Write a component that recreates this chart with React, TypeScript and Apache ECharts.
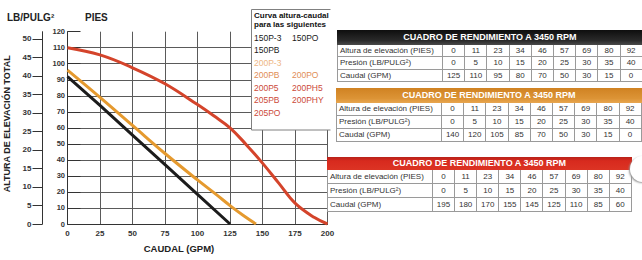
import React, { useEffect, useRef } from "react";
import * as echarts from "echarts";

// ---- curve data (GPM vs PIES) ----
const negroGpm = [0, 25, 50, 75, 100, 125];
const negroPies = [92, 74, 55.5, 37, 18.5, 0];
const naranjaGpm = [0, 25, 50, 75, 100, 115, 125, 135, 145];
const naranjaPies = [96, 79, 61.5, 44, 27.5, 18, 11.5, 5.5, 0];
const rojoGpm = [0, 25, 50, 75, 100, 112.5, 125, 137.5, 150, 162.5, 175, 190, 200];
const rojoPies = [110, 105.5, 97.5, 87.5, 74.5, 67.5, 60, 49.5, 38, 25.5, 13, 4, 0];

// ---- axis ticks ----
const psiTicks = [0, 5, 10, 15, 20, 25, 30, 35, 40, 45, 50];
const gridPies = [10, 20, 30, 40, 50, 60, 70, 80, 90, 100, 110];
const PIES_POR_PSI = 2.31;

// ---- legend box ----
const legendTitle = ["Curva altura-caudal", "para las siguientes"];
const filasModelos = [
  ["150P-3", "150PO"],
  ["150PB"],
  ["200P-3"],
  ["200PB", "200PO"],
  ["200P5", "200PH5"],
  ["205PB", "200PHY"],
  ["205PO"],
];

// ---- performance tables ----
const tablaTitulo = "CUADRO DE RENDIMIENTO A 3450 RPM";
const filaEtiquetas = ["Altura de elevación (PIES)", "Presión (LB/PULG²)", "Caudal (GPM)"];
const alturaPies = [0, 11, 23, 34, 46, 57, 69, 80, 92];
const presionLb = [0, 5, 10, 15, 20, 25, 30, 35, 40];
const caudalTabla1 = [125, 110, 95, 80, 70, 50, 30, 15, 0];
const caudalTabla2 = [140, 120, 105, 85, 70, 50, 30, 15, 0];
const caudalTabla3 = [195, 180, 170, 155, 145, 125, 110, 85, 60];

const FONT = "'Liberation Sans', Arial, Helvetica, sans-serif";
const coloresFila = ["#1a1a1a", "#1a1a1a", "#eeb683", "#e18e55", "#cc4a38", "#cc4a38", "#cc4a38"];

function pares(xs: number[], ys: number[]) {
  return xs.map((x, i) => [x, ys[i]]);
}

function Chart() {
  const ref = useRef<HTMLDivElement>(null);
  useEffect(() => {
    if (!ref.current) return;
    const chart = echarts.init(ref.current, null, { renderer: "svg" });
    const legendEls: any[] = [
      {
        type: "rect",
        shape: { x: 251.5, y: 9.5, width: 79, height: 120.5 },
        style: { fill: "#ffffff", stroke: null },
        z: 100,
      },
      {
        type: "polyline",
        shape: {
          points: [
            [330.5, 9.5],
            [251.5, 9.5],
            [251.5, 130],
            [330.5, 130],
          ],
        },
        style: { fill: null, stroke: "#808080", lineWidth: 1 },
        z: 100,
      },
    ];
    legendTitle.forEach((t, i) => {
      legendEls.push({
        type: "text",
        x: 254,
        y: 15 + i * 9,
        z: 101,
        style: { text: t, font: `bold 8px ${FONT}`, fill: "#111", verticalAlign: "middle" },
      });
    });
    filasModelos.forEach((fila, r) => {
      fila.forEach((m, c) => {
        legendEls.push({
          type: "text",
          x: c === 0 ? 254 : 292,
          y: 37.5 + r * 12.5,
          z: 101,
          style: { text: m, font: `8.5px ${FONT}`, fill: coloresFila[r], verticalAlign: "middle" },
        });
      });
    });
    legendEls.push({
      type: "text",
      x: 7,
      y: 17,
      z: 101,
      style: { text: "LB/PULG²", font: `bold 10px ${FONT}`, fill: "#222", verticalAlign: "middle" },
    });

    const axisCol = "#333";
    chart.setOption({
      animation: false,
      backgroundColor: "#ffffff",
      textStyle: { fontFamily: FONT },
      grid: { left: 67.5, right: 8.5, top: 31.7, bottom: 36, containLabel: false, outerBoundsMode: "none" },
      xAxis: {
        type: "value",
        min: 0,
        max: 200,
        interval: 25,
        axisLine: { show: true, lineStyle: { color: axisCol, width: 1 } },
        axisTick: { show: false },
        axisLabel: { color: "#333", fontSize: 8, fontWeight: "bold", margin: 5, fontFamily: FONT },
        splitLine: { show: true, lineStyle: { color: "#5a5a5a", width: 1 } },
        name: "CAUDAL (GPM)",
        nameLocation: "middle",
        nameGap: 19,
        nameTextStyle: {
          color: "#222",
          fontSize: 9.5,
          fontWeight: "bold",
          fontFamily: FONT,
          padding: [0, 37, 0, 0],
        },
      },
      yAxis: [
        {
          type: "value",
          min: 0,
          max: 120,
          interval: 10,
          position: "left",
          offset: 25,
          axisLine: { show: true, lineStyle: { color: axisCol, width: 1 } },
          axisTick: { show: true, inside: true, length: 13, lineStyle: { color: axisCol } },
          axisLabel: {
            inside: true,
            align: "right",
            margin: 22.5,
            color: "#333",
            fontSize: 7.5,
            fontWeight: "bold",
            fontFamily: FONT,
          },
          splitLine: { show: false },
          name: "PIES",
          nameLocation: "end",
          nameGap: 14.7,
          nameTextStyle: {
            color: "#222",
            fontSize: 10,
            fontWeight: "bold",
            fontFamily: FONT,
            align: "left",
            verticalAlign: "middle",
            padding: [0, 0, 0, 17.5],
          },
        },
        {
          type: "value",
          min: 0,
          max: 120 / PIES_POR_PSI,
          position: "left",
          offset: 25,
          axisLine: { show: true, lineStyle: { color: axisCol, width: 1 } },
          axisTick: { show: true, length: 10, customValues: psiTicks, lineStyle: { color: axisCol } },
          axisLabel: {
            customValues: psiTicks,
            margin: 11,
            color: "#333",
            fontSize: 8,
            fontWeight: "bold",
            fontFamily: FONT,
          },
          splitLine: { show: false },
          name: "ALTURA DE ELEVACIÓN TOTAL",
          nameLocation: "middle",
          nameGap: 30.5,
          nameRotate: 90,
          nameTextStyle: { color: "#222", fontSize: 9, fontWeight: "bold", fontFamily: FONT, padding: [0, 0, 0, 8] },
        },
        {
          type: "value",
          min: 0,
          max: 120,
          position: "left",
          offset: 0,
          axisLine: { show: false },
          axisTick: { show: false, customValues: gridPies },
          axisLabel: { show: false, customValues: gridPies },
          splitLine: { show: true, lineStyle: { color: "#5a5a5a", width: 1 } },
        },
      ],
      series: [
        {
          type: "line",
          data: pares(rojoGpm, rojoPies),
          yAxisIndex: 0,
          smooth: 0.4,
          showSymbol: false,
          lineStyle: { color: "#d4442b", width: 3 },
        },
        {
          type: "line",
          data: pares(naranjaGpm, naranjaPies),
          yAxisIndex: 0,
          smooth: 0.4,
          showSymbol: false,
          lineStyle: { color: "#e59a2f", width: 3 },
        },
        {
          type: "line",
          data: pares(negroGpm, negroPies),
          yAxisIndex: 0,
          smooth: false,
          showSymbol: false,
          lineStyle: { color: "#1c1c1c", width: 3 },
        },
      ],
      graphic: legendEls,
    });
    return () => chart.dispose();
  }, []);
  return <div ref={ref} style={{ position: "absolute", left: 0, top: 0, width: 336, height: 260 }} />;
}

function Tabla(props: {
  left: number;
  top: number;
  header: string;
  headerH: number;
  rowH: number;
  colW: number;
  caudal: number[];
}) {
  const { left, top, header, headerH, rowH, colW, caudal } = props;
  const filas = [alturaPies, presionLb, caudal];
  const border = "1px solid #9a9a9a";
  const cells: any[] = [];
  filas.forEach((vals, r) => {
    cells.push(
      <div
        key={`l${r}`}
        style={{
          borderLeft: border,
          borderRight: border,
          borderBottom: border,
          paddingLeft: 2,
          lineHeight: `${rowH - 1}px`,
          whiteSpace: "nowrap",
          overflow: "hidden",
          boxSizing: "border-box",
        }}
      >
        {filaEtiquetas[r]}
      </div>
    );
    vals.forEach((v, c) => {
      cells.push(
        <div
          key={`c${r}-${c}`}
          style={{
            borderRight: border,
            borderBottom: border,
            textAlign: "center",
            lineHeight: `${rowH - 1}px`,
            boxSizing: "border-box",
          }}
        >
          {v}
        </div>
      );
    });
  });
  return (
    <div
      style={{
        position: "absolute",
        left,
        top,
        display: "grid",
        gridTemplateColumns: `106px repeat(9, ${colW}px)`,
        gridTemplateRows: `${headerH}px repeat(3, ${rowH}px)`,
        fontFamily: FONT,
        fontSize: 8,
        color: "#333",
        background: "#fff",
      }}
    >
      <div
        style={{
          gridColumn: "1 / span 10",
          background: header,
          color: "#fff",
          fontWeight: "bold",
          fontSize: 9,
          textAlign: "center",
          lineHeight: `${headerH}px`,
          whiteSpace: "nowrap",
        }}
      >
        {tablaTitulo}
      </div>
      {cells}
    </div>
  );
}

export default function App() {
  return (
    <div
      style={{
        position: "absolute",
        left: 0,
        top: 0,
        width: 642,
        height: 260,
        overflow: "hidden",
        background: "#fff",
      }}
    >
      <Chart />
      <Tabla
        left={337}
        top={30}
        header="linear-gradient(#0e0e0e, #2a2a2a 70%, #4a4a4a)"
        headerH={15}
        rowH={12.4}
        colW={22.2}
        caudal={caudalTabla1}
      />
      <Tabla
        left={336}
        top={88}
        header="linear-gradient(#d08222, #dc9436 70%, #e8a650)"
        headerH={15}
        rowH={13}
        colW={22.2}
        caudal={caudalTabla2}
      />
      <Tabla
        left={327}
        top={157}
        header="linear-gradient(#b8221a, #d82a1e 30%, #dc3424)"
        headerH={13}
        rowH={14}
        colW={22.1}
        caudal={caudalTabla3}
      />
      <div
        style={{
          position: "absolute",
          left: 630,
          top: 156,
          width: 26,
          height: 26,
          borderRadius: "50%",
          background: "#fff",
          boxShadow: "-1px 1px 2px #999",
        }}
      />
    </div>
  );
}
